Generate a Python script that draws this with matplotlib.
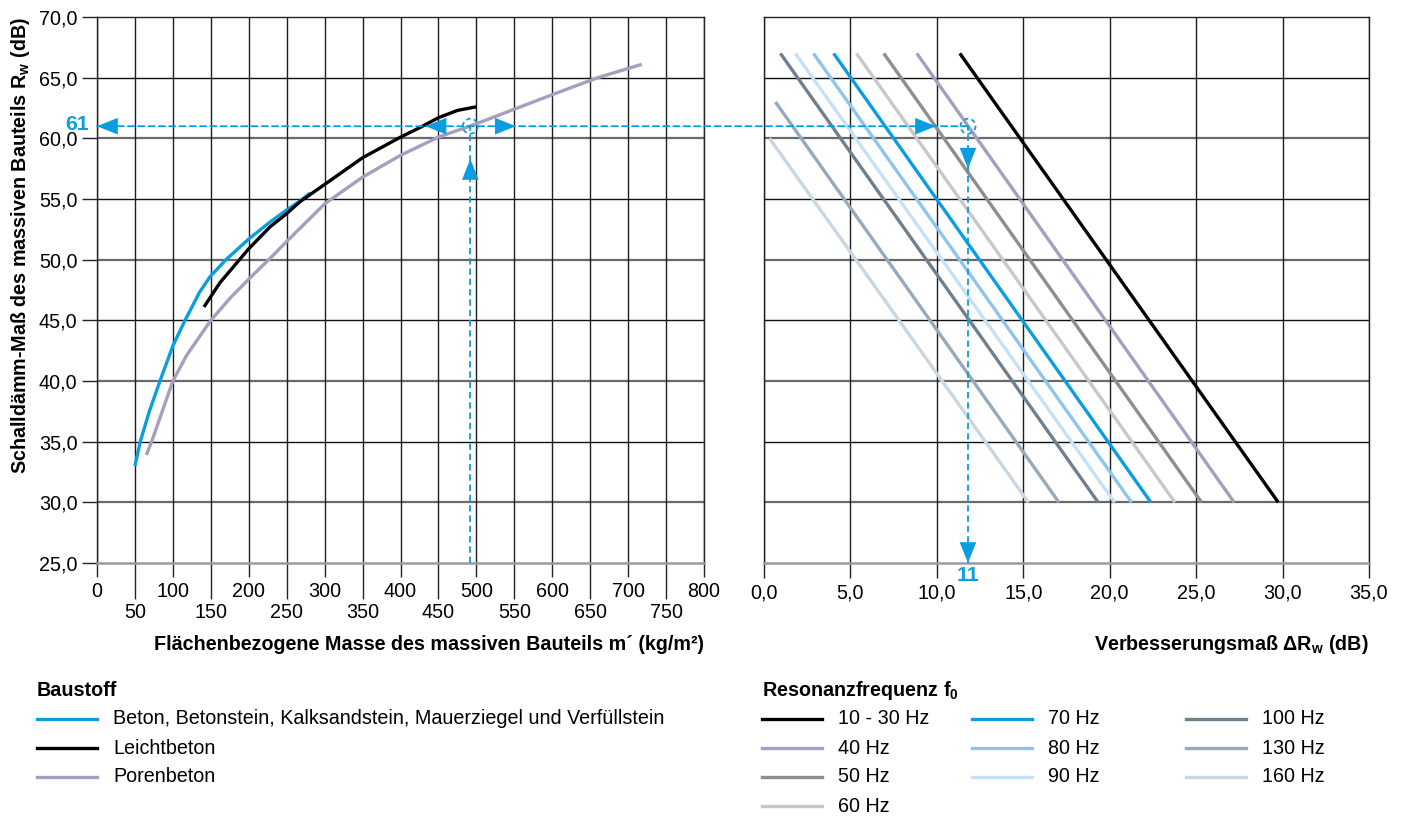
import matplotlib.pyplot as plt
from matplotlib.lines import Line2D
from matplotlib.patches import Circle, ConnectionPatch
import matplotlib.transforms as mtransforms

# Baustoff-Kurven (links): Flaechenmasse m' in kg/m2 -> Rw in dB
beton_m = [50, 57, 69, 83, 100, 116, 135, 149, 170, 200, 228, 250, 268, 281]
beton_rw = [33.0, 35.0, 37.5, 40.0, 42.9, 45.0, 47.3, 48.6, 50.0, 51.7, 53.1, 54.1, 54.85, 55.5]

leicht_m = [141, 162, 200, 228, 250, 268, 300, 350, 400, 426, 450, 475, 500]
leicht_rw = [46.1, 48.1, 50.9, 52.7, 53.8, 54.8, 56.2, 58.4, 60.1, 60.9, 61.7, 62.3, 62.6]

poren_m = [65, 72, 100, 118, 150, 175, 200, 228, 250, 300, 350, 400, 450, 500, 550, 600, 660, 718]
poren_rw = [33.9, 35.0, 40.0, 42.1, 45.0, 46.8, 48.4, 50.1, 51.5, 54.6, 56.8, 58.6, 60.1, 61.2, 62.4, 63.6, 65.0, 66.1]

baustoff_labels = ["Beton, Betonstein, Kalksandstein, Mauerziegel und Verfüllstein",
                   "Leichtbeton", "Porenbeton"]

# Resonanzfrequenz-Geraden (rechts): Anfang/Ende als (dRw, Rw)
freq_labels = ["10 - 30 Hz", "40 Hz", "50 Hz", "60 Hz", "70 Hz",
               "80 Hz", "90 Hz", "100 Hz", "130 Hz", "160 Hz"]
dr_start = [11.33, 8.84, 6.93, 5.35, 4.03, 2.86, 1.81, 0.95, 0.66, 0.32]
rw_start = [67, 67, 67, 67, 67, 67, 67, 67, 63, 60]
dr_end = [29.75, 27.2, 25.31, 23.77, 22.38, 21.26, 20.28, 19.33, 17.06, 15.3]
rw_end = [30, 30, 30, 30, 30, 30, 30, 30, 30, 30]

# Ablesebeispiel
bsp_m = 492
bsp_rw = 61
bsp_dr = 11.8

m_ticks = [0, 100, 200, 300, 400, 500, 600, 700, 800]
m_ticks_minor = [50, 150, 250, 350, 450, 550, 650, 750]
rw_ticks = [25, 30, 35, 40, 45, 50, 55, 60, 65, 70]
dr_ticks = [0, 5, 10, 15, 20, 25, 30, 35]

BLUE = '#0a9ee0'
LILA = '#a49fbf'
freq_colors = ['#000000', LILA, '#8e8e8e', '#c8c8c8', BLUE,
               '#8ec5ec', '#c6e1f6', '#6f808d', '#96aabb', '#c9d7e3']
baustoff_colors = [BLUE, '#000000', LILA]

plt.rcParams['font.family'] = ['Liberation Sans', 'DejaVu Sans']
plt.rcParams['mathtext.fontset'] = 'custom'
plt.rcParams['mathtext.rm'] = 'Liberation Sans'
plt.rcParams['mathtext.bf'] = 'Liberation Sans:bold'
FS = 14.2

W, H = 1402, 819
fig = plt.figure(figsize=(W / 100, H / 100), dpi=100)
ax1 = fig.add_axes([97 / W, 1 - 563 / H, 607 / W, 546 / H])
ax2 = fig.add_axes([764 / W, 1 - 563 / H, 605 / W, 546 / H])


def dec(v):
    return f"{v:.1f}".replace('.', ',')


for ax in (ax1, ax2):
    ax.set_ylim(25, 70)
    for sp in ax.spines.values():
        sp.set_color('#222222')
        sp.set_linewidth(1.0)
    ax.spines['bottom'].set_color('#9a9a9a')
    ax.spines['bottom'].set_linewidth(1.8)
    for i, y in enumerate(rw_ticks[1:-1]):
        if i % 2 == 0:
            ax.axhline(y, color='#6a6a6a', lw=1.6, zorder=1)
        else:
            ax.axhline(y, color='#111111', lw=1.0, zorder=1)
    ax.set_yticks(rw_ticks)

# linke Achse
ax1.set_xlim(0, 800)
ax1.set_xticks(m_ticks)
ax1.set_xticks(m_ticks_minor, minor=True)
ax1.set_xticklabels([str(v) for v in m_ticks], fontsize=FS)
ax1.set_xticklabels([str(v) for v in m_ticks_minor], minor=True, fontsize=FS)
ax1.set_yticklabels([dec(v) for v in rw_ticks], fontsize=FS)
ax1.tick_params(axis='x', which='major', length=10, width=1, color='#222222', pad=4)
ax1.tick_params(axis='x', which='minor', length=26, width=1, color='#222222', pad=3)
ax1.tick_params(axis='y', length=11, width=1, color='#222222', pad=3)
ax1.grid(axis='x', which='both', color='#1e1e1e', lw=1.0, zorder=1)

ax1.plot(poren_m, poren_rw, color=baustoff_colors[2], lw=2.4, solid_capstyle='butt', zorder=3)
ax1.plot(beton_m, beton_rw, color=baustoff_colors[0], lw=2.4, solid_capstyle='butt', zorder=3)
ax1.plot(leicht_m, leicht_rw, color=baustoff_colors[1], lw=2.4, solid_capstyle='butt', zorder=4)

# rechte Achse
ax2.set_xlim(0, 35)
ax2.set_xticks(dr_ticks)
ax2.set_xticklabels([dec(v) for v in dr_ticks], fontsize=FS)
ax2.tick_params(axis='x', length=11, width=1, color='#222222', pad=4)
ax2.tick_params(axis='y', length=0, labelleft=False)
ax2.grid(axis='x', color='#1e1e1e', lw=1.0, zorder=1)

for i in range(len(freq_labels)):
    ax2.plot([dr_start[i], dr_end[i]], [rw_start[i], rw_end[i]],
             color=freq_colors[i], lw=2.4, solid_capstyle='butt', zorder=3)

# Ablesebeispiel (gestrichelt)
dash = dict(color=BLUE, lw=1.3, ls=(0, (3.5, 2.2)), zorder=6)
ax1.plot([bsp_m, bsp_m], [25, bsp_rw], **dash)
ax2.plot([bsp_dr, bsp_dr], [25, bsp_rw], **dash)
con = ConnectionPatch(xyA=(0, bsp_rw), coordsA=ax1.transData,
                      xyB=(bsp_dr, bsp_rw), coordsB=ax2.transData,
                      color=BLUE, lw=1.3, ls=(0, (3.5, 2.2)), zorder=6)
fig.add_artist(con)


def arrow(ax, x, y, dx, dy):
    ax.annotate('', xy=(x, y), xytext=(dx, dy), textcoords='offset points',
                arrowprops=dict(arrowstyle='-|>,head_length=0.75,head_width=0.3',
                                mutation_scale=20, color=BLUE, lw=0,
                                shrinkA=0, shrinkB=0), zorder=7)


arrow(ax1, 0, bsp_rw, 15, 0)
arrow(ax1, 433, bsp_rw, 15, 0)
arrow(ax1, 552, bsp_rw, -15, 0)
arrow(ax1, bsp_m, 58.3, 0, -15)
arrow(ax2, 9.95, bsp_rw, -15, 0)
arrow(ax2, bsp_dr, 57.5, 0, 15)
arrow(ax2, bsp_dr, 25, 0, 15)

for ax, x in ((ax1, bsp_m), (ax2, bsp_dr)):
    tr = fig.dpi_scale_trans + mtransforms.ScaledTranslation(x, bsp_rw, ax.transData)
    ax.add_patch(Circle((0, 0), radius=0.075, transform=tr, fill=False,
                        ec=BLUE, lw=1.3, ls=(0, (2.5, 1.8)), zorder=7))

ax1.annotate(str(bsp_rw), xy=(0, bsp_rw), xytext=(-14, 1), textcoords='offset points',
             ha='center', va='center', color=BLUE, fontsize=FS + 1, fontweight='bold',
             annotation_clip=False)
ax2.annotate(str(int(bsp_dr)), xy=(bsp_dr, 25), xytext=(0, -9), textcoords='offset points',
             ha='center', va='center', color=BLUE, fontsize=FS + 1, fontweight='bold',
             annotation_clip=False)

# Achsentitel
ax1.text(1.0, -0.150, "Flächenbezogene Masse des massiven Bauteils m´ (kg/m²)",
         transform=ax1.transAxes, ha='right', va='center', fontsize=FS, fontweight='bold')
ax2.text(1.0, -0.150, r"Verbesserungsmaß ΔR$_\mathbf{w}$ (dB)",
         transform=ax2.transAxes, ha='right', va='center', fontsize=FS, fontweight='bold')
fig.text(21 / W, 1 - 17 / H, r"Schalldämm-Maß des massiven Bauteils R$_\mathbf{w}$ (dB)",
         rotation=90, ha='center', va='top', fontsize=FS, fontweight='bold')

# Legenden (von Hand gesetzt)
ROW = 29


def leg_entry(x, y, color, label):
    fig.add_artist(Line2D([x / W, (x + 60) / W], [1 - y / H, 1 - y / H],
                          color=color, lw=2.4, transform=fig.transFigure))
    fig.text((x + 76) / W, 1 - y / H, label, ha='left', va='center', fontsize=FS)


fig.text(37 / W, 1 - 690 / H, "Baustoff", ha='left', va='center', fontsize=FS, fontweight='bold')
for i, lab in enumerate(baustoff_labels):
    leg_entry(37, 719 + i * ROW, baustoff_colors[i], lab)

fig.text(762 / W, 1 - 690 / H, r"Resonanzfrequenz f$_\mathbf{0}$", ha='left', va='center',
         fontsize=FS, fontweight='bold')
col_x = [762, 972, 1186]
for i, lab in enumerate(freq_labels):
    if i < 4:
        c, r = 0, i
    elif i < 7:
        c, r = 1, i - 4
    else:
        c, r = 2, i - 7
    leg_entry(col_x[c], 719 + r * ROW, freq_colors[i], lab)

fig.savefig('out.png', dpi=100)
